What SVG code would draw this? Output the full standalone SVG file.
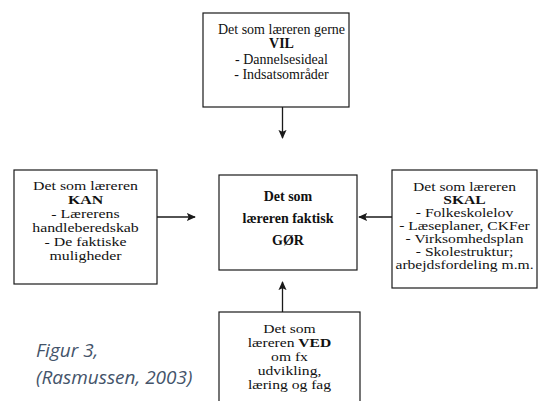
<svg xmlns="http://www.w3.org/2000/svg" width="540" height="401" viewBox="0 0 540 401">
  <style>
    .box { fill: #ffffff; stroke: #1a1a1a; stroke-width: 1.2; }
    .t { font-family: "Liberation Serif", "Times New Roman", serif; font-size: 14px; fill: #111111; text-anchor: middle; }
    .s { font-size: 13px; }
    .xs { font-size: 12px; }
    .b { font-weight: bold; }
    .conn { stroke: #1a1a1a; stroke-width: 1.3; fill: none; }
    .cap { font-family: "Open Sans", "Liberation Sans", sans-serif; font-style: italic; font-size: 19px; fill: #44546A; }
  </style>
  <defs>
    <marker id="arr" viewBox="0 0 10 10" refX="9" refY="5" markerWidth="9" markerHeight="9" markerUnits="userSpaceOnUse" orient="auto">
      <path d="M0,0.5 L10,5 L0,9.5 L2,5 Z" fill="#1a1a1a"/>
    </marker>
  </defs>
  <rect width="540" height="401" fill="#ffffff"/>

  <g id="connectors">
    <line class="conn" x1="282.5" y1="107" x2="282.5" y2="138" marker-end="url(#arr)"/>
    <line class="conn" x1="157" y1="217" x2="195" y2="217" marker-end="url(#arr)"/>
    <line class="conn" x1="392" y1="217" x2="359" y2="217" marker-end="url(#arr)"/>
    <line class="conn" x1="282.5" y1="312" x2="282.5" y2="282" marker-end="url(#arr)"/>
  </g>

  <g id="node-vil">
    <rect class="box" x="203" y="13" width="146" height="94"/>
    <text class="t" x="281.5" y="34">Det som læreren gerne</text>
    <text class="t b" x="281.5" y="48">VIL</text>
    <text class="t" x="281.5" y="64">- Dannelsesideal</text>
    <text class="t" x="281.5" y="79">- Indsatsområder</text>
  </g>

  <g id="node-kan">
    <rect class="box" x="14" y="170" width="143" height="114"/>
    <g transform="translate(85.5,0) scale(1.22,1)">
      <text class="t s" x="0" y="190">Det som læreren</text>
      <text class="t s b" x="0" y="204">KAN</text>
      <text class="t s" x="0" y="218">- Lærerens</text>
      <text class="t s" x="0" y="232">handleberedskab</text>
      <text class="t s" x="0" y="246">- De faktiske</text>
      <text class="t s" x="0" y="260">muligheder</text>
    </g>
  </g>

  <g id="node-goer">
    <rect class="box" x="219" y="175" width="138" height="95"/>
    <text class="t b" x="288" y="201">Det som</text>
    <text class="t b" x="288" y="223">læreren faktisk</text>
    <text class="t b" x="288" y="245">GØR</text>
  </g>

  <g id="node-skal">
    <rect class="box" x="392" y="170" width="145" height="118"/>
    <g transform="translate(464.5,0) scale(1.3,1)">
      <text class="t xs" x="0" y="191">Det som læreren</text>
      <text class="t xs b" x="0" y="204">SKAL</text>
      <text class="t xs" x="0" y="217">- Folkeskolelov</text>
      <text class="t xs" x="0" y="230">- Læseplaner, CKFer</text>
      <text class="t xs" x="0" y="243">- Virksomhedsplan</text>
      <text class="t xs" x="0" y="256">- Skolestruktur;</text>
      <text class="t xs" x="0" y="269">arbejdsfordeling m.m.</text>
    </g>
  </g>

  <g id="node-ved">
    <rect class="box" x="219" y="312" width="141" height="100"/>
    <g transform="translate(289.5,0) scale(1.2,1)">
      <text class="t s" x="0" y="333">Det som</text>
      <text class="t s" x="0" y="347">læreren <tspan class="b">VED</tspan></text>
      <text class="t s" x="0" y="361">om fx</text>
      <text class="t s" x="0" y="375">udvikling,</text>
      <text class="t s" x="0" y="389">læring og fag</text>
    </g>
  </g>

  <g id="caption">
    <text class="cap" x="36" y="357">Figur 3,</text>
    <text class="cap" x="36" y="384">(Rasmussen, 2003)</text>
  </g>
</svg>
